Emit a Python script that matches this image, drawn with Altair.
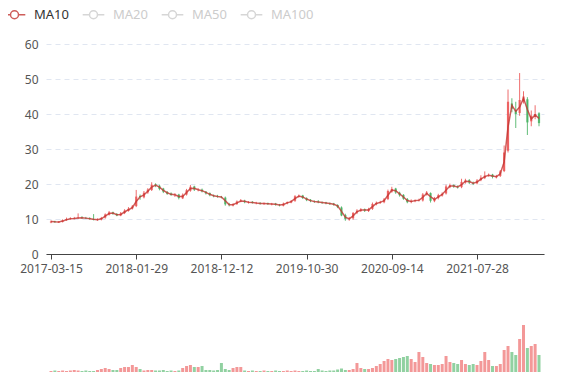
import altair as alt
import pandas as pd

# ~10-trading-day candles (index 0 = 2017-03-15)
close_ = [9.3, 9.1, 9.2, 9.6, 10.0, 10.1, 10.2, 10.4, 10.3, 10.2,
          10.0, 9.8, 9.8, 10.3, 11.3, 11.9, 11.5, 11.0, 11.6, 12.4,
          12.9, 13.6, 16.4, 16.3, 17.5, 18.4, 19.8, 19.6, 18.6, 17.8,
          17.2, 16.9, 16.9, 16.0, 16.9, 18.2, 19.2, 18.4, 18.3, 17.9,
          17.3, 16.8, 16.5, 16.4, 16.2, 14.2, 14.0, 14.2, 15.0, 15.3,
          14.8, 14.8, 14.6, 14.5, 14.4, 14.4, 14.3, 14.3, 14.1, 13.9,
          14.4, 14.8, 15.1, 16.5, 16.6, 16.0, 15.4, 15.1, 14.9, 14.8,
          14.6, 14.5, 14.3, 14.1, 13.4, 11.0, 10.0, 10.1, 11.7, 12.4,
          12.7, 12.4, 12.8, 14.3, 14.6, 14.9, 15.6, 18.0, 18.6, 17.6,
          16.8, 15.8, 14.8, 15.2, 15.3, 15.4, 17.0, 17.6, 15.2, 15.9,
          16.8, 17.2, 19.3, 19.6, 19.3, 19.0, 20.6, 21.0, 20.4, 20.1,
          21.0, 21.8, 22.4, 22.6, 22.0, 22.2, 23.6, 29.0, 43.5, 41.5,
          40.0, 44.0, 45.0, 37.6, 39.5, 40.0, 37.4]
open_ = [9.0, 9.3, 9.0, 9.2, 9.7, 10.0, 10.1, 10.3, 10.4, 10.3,
         10.2, 10.0, 9.7, 9.9, 10.4, 11.2, 11.9, 11.4, 11.0, 11.7,
         12.3, 13.0, 13.7, 16.6, 16.2, 17.6, 18.3, 19.9, 19.5, 18.7,
         17.7, 17.3, 16.8, 17.0, 15.9, 17.0, 18.1, 19.3, 18.3, 18.4,
         17.8, 17.4, 16.7, 16.6, 16.3, 16.1, 14.1, 13.9, 14.3, 15.1,
         15.2, 14.7, 14.9, 14.5, 14.6, 14.3, 14.5, 14.2, 14.4, 14.0,
         13.8, 14.5, 14.7, 15.2, 16.4, 16.7, 15.9, 15.5, 15.0, 15.0,
         14.7, 14.7, 14.4, 14.4, 14.0, 13.3, 11.1, 9.9, 10.2, 11.8,
         12.3, 12.8, 12.3, 12.9, 14.2, 14.7, 14.8, 15.7, 17.8, 18.7,
         17.5, 16.9, 15.7, 14.9, 15.1, 15.4, 15.3, 17.1, 17.4, 15.1,
         16.0, 16.7, 17.3, 19.1, 19.7, 19.2, 19.1, 20.5, 21.1, 20.3,
         20.2, 21.1, 21.7, 22.5, 22.7, 21.9, 22.3, 23.7, 29.5, 43.0,
         41.2, 40.3, 43.5, 44.2, 37.9, 39.3, 40.2]
high_ = [9.6, 9.5, 9.4, 9.9, 10.4, 10.5, 10.6, 11.6, 10.8, 10.6,
         10.5, 11.4, 10.2, 10.6, 11.6, 12.3, 12.1, 11.7, 12.0, 12.8,
         13.4, 14.0, 18.3, 17.0, 18.0, 18.8, 20.5, 20.2, 19.8, 18.9,
         18.0, 17.6, 17.4, 17.2, 17.3, 18.6, 19.7, 19.5, 18.8, 18.7,
         18.0, 17.6, 17.0, 16.9, 16.6, 16.4, 14.6, 14.5, 15.3, 15.7,
         15.5, 15.1, 15.1, 14.9, 14.8, 14.7, 14.7, 14.6, 14.6, 14.3,
         14.7, 15.0, 15.4, 16.8, 17.0, 16.9, 16.2, 15.7, 15.3, 15.4,
         15.0, 14.9, 14.7, 14.6, 14.2, 13.6, 11.5, 10.6, 12.0, 12.8,
         13.1, 13.0, 13.2, 14.7, 15.0, 15.2, 16.0, 18.4, 19.2, 18.9,
         17.8, 17.1, 16.0, 15.6, 15.6, 15.8, 17.4, 18.0, 17.6, 16.3,
         17.2, 17.6, 19.8, 20.1, 19.9, 19.6, 21.5, 21.5, 21.4, 20.7,
         21.4, 22.5, 23.6, 23.0, 22.9, 22.6, 24.0, 31.0, 47.0, 44.5,
         43.5, 51.7, 46.5, 44.8, 41.0, 42.5, 40.5]
low_ = [8.8, 8.9, 8.9, 9.0, 9.5, 9.8, 9.9, 10.0, 10.0, 10.0,
        9.8, 9.6, 9.5, 9.6, 10.1, 11.0, 11.2, 10.8, 10.8, 11.4,
        12.1, 12.7, 13.4, 15.5, 15.9, 17.2, 18.0, 19.1, 18.2, 17.4,
        16.9, 16.6, 16.3, 15.6, 15.7, 16.7, 17.8, 18.0, 17.9, 17.6,
        17.0, 16.5, 16.2, 16.1, 15.9, 13.8, 13.6, 13.6, 14.0, 14.8,
        14.5, 14.4, 14.4, 14.2, 14.1, 14.0, 14.0, 13.9, 13.8, 13.6,
        13.6, 14.2, 14.5, 14.9, 16.1, 15.7, 15.1, 14.8, 14.6, 14.5,
        14.3, 14.2, 14.0, 13.8, 13.1, 10.8, 9.5, 9.5, 9.8, 11.4,
        12.0, 12.0, 12.0, 12.6, 13.9, 14.3, 14.5, 15.4, 17.5, 17.2,
        16.4, 15.5, 14.5, 14.5, 14.8, 15.0, 15.0, 16.7, 14.7, 14.8,
        15.6, 16.4, 17.0, 18.8, 18.9, 18.7, 18.8, 20.1, 20.0, 19.7,
        19.9, 20.8, 21.4, 22.1, 21.6, 21.6, 22.0, 23.4, 29.0, 40.5,
        36.0, 39.5, 43.0, 34.0, 36.5, 38.5, 36.5]
volume = [1, 1.5, 1, 1.5, 1, 1.5, 2, 1.5, 1, 1.5,
          1, 1, 2, 3, 4, 3, 2, 2, 4, 5,
          5, 7, 5, 3, 1.5, 2, 2, 1.5, 1.5, 2,
          1, 1.5, 1, 1.5, 4, 6, 7, 5, 5, 6,
          2, 2, 1.5, 2, 9, 3, 2, 4, 5, 5,
          1.5, 1, 1.5, 1, 1, 1.5, 1, 1, 1.5, 1,
          1, 1.5, 1, 1.5, 1, 1, 1.5, 1, 1, 3,
          1.5, 1, 1.5, 1.5, 2.5, 3.5, 2, 2, 3, 9,
          4, 3, 3, 4, 6, 8, 11, 13, 12, 13,
          14, 15, 16, 13, 10, 20, 15, 9, 8, 7,
          7, 8, 16, 10, 9, 8, 12, 8, 7, 8,
          7, 11, 20, 12, 6, 6, 8, 22, 26, 20,
          17, 33, 47, 24, 26, 28, 17]

tick_index = [0, 22, 44, 66, 88, 110]
tick_labels = ["2017-03-15", "2018-01-29", "2018-12-12", "2019-10-30",
               "2020-09-14", "2021-07-28"]
y_ticks = [0, 10, 20, 30, 40, 50, 60]
series_names = ["MA10", "MA20", "MA50", "MA100"]

UP = "#eb5454"
DOWN = "#47b262"
MA_COLOR = "#c23531"

df = pd.DataFrame({"i": list(range(len(close_))), "o": open_, "h": high_,
                   "l": low_, "c": close_, "v": volume})

label_expr = " : ".join(f"datum.value == {k} ? '{t}'" for k, t in zip(tick_index, tick_labels)) + " : ''"

xscale = alt.Scale(domain=[0, len(close_) - 1], nice=False, zero=False)
yscale = alt.Scale(domain=[0, 60], nice=False)
dir_color = alt.condition("datum.c >= datum.o", alt.value(UP), alt.value(DOWN))

base = alt.Chart(df).encode(
    x=alt.X("i:Q", scale=xscale, title=None,
            axis=alt.Axis(values=tick_index, labelExpr=label_expr, grid=False,
                          domainColor="#444", tickColor="#444", tickSize=5,
                          labelColor="#555", labelFontSize=12, labelPadding=4,
                          labelFlush=False, labelOverlap=False))
)

yax = alt.Axis(values=y_ticks, tickCount=7, domain=False, ticks=False,
               gridDash=[5, 4], gridColor="#E0E6F1", labelColor="#555",
               labelFontSize=12, labelPadding=8, labelOverlap=False, title=None)

wick = base.mark_rule(strokeWidth=1, opacity=0.85).encode(
    y=alt.Y("l:Q", scale=yscale, axis=yax), y2="h:Q", color=dir_color)
body = base.mark_bar(size=2.2, opacity=0.85).encode(
    y=alt.Y("o:Q", scale=yscale, axis=yax), y2="c:Q", color=dir_color)
ma = base.transform_window(
    ma="mean(c)", frame=[-1, 0], sort=[alt.SortField("i")]
).transform_calculate(series="'MA10'").mark_line(
    strokeWidth=1.5, opacity=0.8
).encode(
    y=alt.Y("ma:Q", scale=yscale, axis=yax),
    color=alt.Color("series:N", title=None,
                    scale=alt.Scale(domain=series_names,
                                    range=[MA_COLOR, "#ccc", "#ccc", "#ccc"]),
                    legend=alt.Legend(
                        orient="none", direction="horizontal", legendX=-38, legendY=-36,
                        symbolType="M-2.7,0L-1,0M1,0L2.7,0M-1,0A1,1,0,1,1,1,0A1,1,0,1,1,-1,0",
                        symbolSize=64, symbolStrokeWidth=1.5, symbolFillColor="white",
                        labelFontSize=13, labelOffset=13, columnPadding=10,
                        labelColor=alt.ExprRef(expr="datum.value == 'MA10' ? '#333' : '#ccc'"))),
)

price = alt.layer(wick, body, ma).properties(width=498, height=210)

vol = alt.Chart(df).mark_bar(size=3, opacity=0.6).encode(
    x=alt.X("i:Q", scale=xscale, title=None,
            axis=alt.Axis(labels=False, ticks=False, grid=False, domainColor="#888")),
    y=alt.Y("v:Q", scale=alt.Scale(domain=[0, 70], nice=False), axis=None),
    color=dir_color,
).properties(width=498, height=70)

chart = alt.vconcat(price, vol, spacing=28).properties(
    padding={"top": 0, "left": 0, "right": 5, "bottom": 0}
).configure(font="Noto Sans").configure_view(stroke=None)

chart.save("out.html", embed_options={"renderer": "svg", "actions": False})
